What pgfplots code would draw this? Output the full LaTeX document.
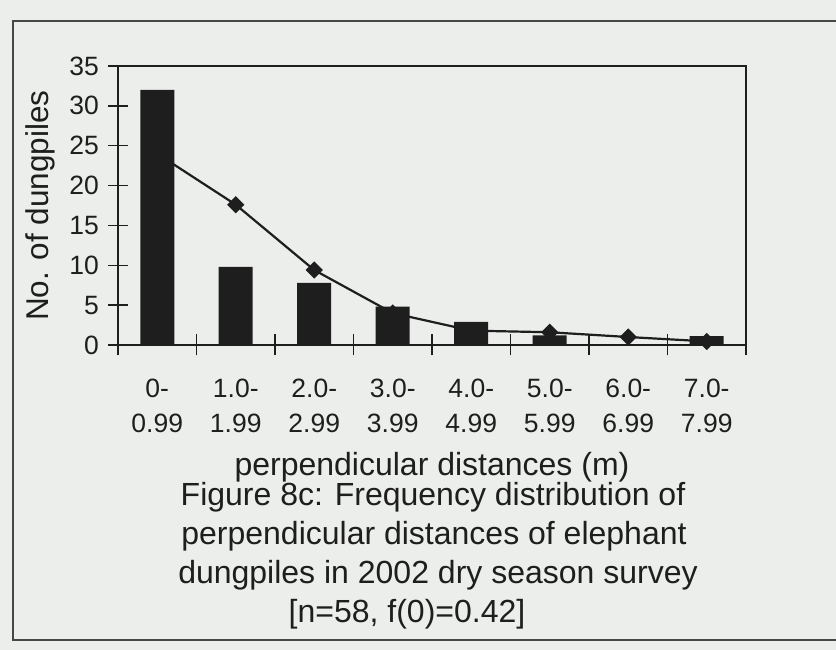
\documentclass[border=0pt]{standalone}
\usepackage{fontspec}
\setmainfont{Liberation Sans}
\usepackage{pgfplots}
\usepackage{pgfplotstable}
\pgfplotsset{compat=1.18}
\definecolor{paper}{RGB}{236,238,235}
\definecolor{ink}{RGB}{30,30,30}
\newcommand{\tickfont}{\fontsize{26.5}{35}\selectfont}
\newcommand{\labfont}{\fontsize{32}{38}\selectfont}

\pgfplotstableread{
x bars curve
0 32   24
1 9.8  17.6
2 7.8  9.4
3 4.8  4.0
4 2.9  1.8
5 1.2  1.6
6 0    1.0
7 1.1  0.45
}\datatable

\begin{document}
\begin{tikzpicture}[x=1pt,y=1pt]
\useasboundingbox (0pt,0pt) rectangle (836pt,650pt);
\fill[paper] (0pt,0pt) rectangle (836pt,650pt);
\draw[line width=2.4pt, black!72] (840pt,629pt) -- (13pt,629pt) -- (13pt,10pt) -- (840pt,10pt);
\begin{axis}[
  at={(118pt,305pt)}, anchor=south west,
  scale only axis, width=628pt, height=279pt,
  xmin=-0.5, xmax=7.5, ymin=0, ymax=35,
  axis line style={line width=1.8pt, ink},
  every tick/.style={line width=1.5pt, ink},
  tick align=center, tick pos=left,
  ytick={0,5,...,35},
  major tick length=19pt, minor tick length=21pt,
  xtick={0,...,7},
  xticklabels={{0-\\0.99},{1.0-\\1.99},{2.0-\\2.99},{3.0-\\3.99},{4.0-\\4.99},{5.0-\\5.99},{6.0-\\6.99},{7.0-\\7.99}},
  major x tick style={draw=none},
  minor xtick={-0.5,0.5,...,7.5},
  /pgf/number format/assume math mode=true,
  ticklabel style={font=\tickfont, text=ink},
  xticklabel style={align=center, anchor=north, inner sep=0pt, yshift=-24pt},
  yticklabel style={anchor=east, xshift=-6pt},
  ylabel={No. of dungpiles},
  ylabel style={at={(axis description cs:-0.1242,0.5)}, anchor=center, font=\fontsize{31.5}{36}\selectfont, text=ink},
  xlabel={perpendicular distances (m)},
  xlabel style={at={(axis description cs:0.5,-0.466)}, anchor=base, font=\labfont, text=ink},
  clip=false,
]
\addplot[ybar, bar width=34pt, fill=ink, draw=none] table[x=x,y=bars] {\datatable};
\addplot[ink, line width=2.2pt, mark=square*, mark size=5pt, mark options={rotate=45, fill=ink, draw=ink}] table[x=x,y=curve] {\datatable};
\end{axis}
\begin{scope}[every node/.style={font=\labfont, text=ink, anchor=base, inner sep=0pt}]
\node at (433pt,144pt) {Figure 8c: Frequency distribution of};
\node at (434pt,105pt) {perpendicular distances of elephant};
\node at (438pt,66pt) {dungpiles in 2002 dry season survey};
\node at (407pt,27pt) {[n=58, f(0)=0.42]};
\end{scope}
\end{tikzpicture}
\end{document}
